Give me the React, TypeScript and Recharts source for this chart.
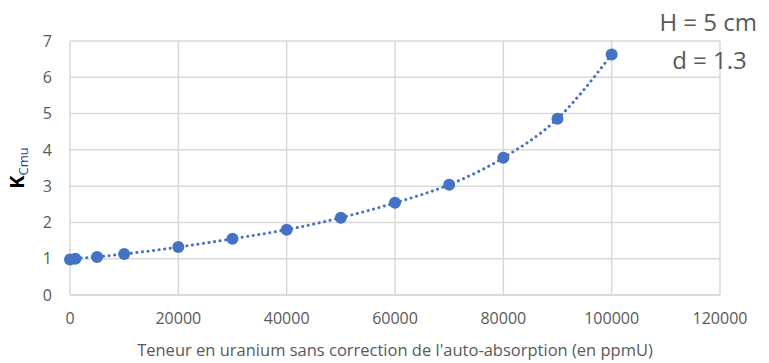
import React from "react";
import { ComposedChart, Line, Scatter, XAxis, YAxis, CartesianGrid, Label } from "recharts";

const teneurs = [0, 1000, 5000, 10000, 20000, 30000, 40000, 50000, 60000, 70000, 80000, 90000, 100000];
const kValues = [0.98, 1.0, 1.05, 1.13, 1.32, 1.55, 1.8, 2.13, 2.54, 3.04, 3.78, 4.86, 6.63];
const xTicks = [0, 20000, 40000, 60000, 80000, 100000, 120000];
const yTicks = [0, 1, 2, 3, 4, 5, 6, 7];

const points = teneurs.map((t, i) => ({ teneur: t, k: kValues[i] }));

const blue = "#4472C4";
const grey = "#595959";
const font = "'Open Sans', 'Noto Sans', sans-serif";

const YLabel = () => (
  <text transform="translate(24, 168) rotate(-90)" textAnchor="middle" fontFamily={font}>
    <tspan fontSize={20} fontWeight={700} fill="#000">K</tspan>
    <tspan fontSize={13} dy={4} fill="#1F3A93">Cmu</tspan>
  </text>
);

export default function App() {
  return (
    <div style={{ position: "absolute", left: 0, top: 0, width: 769, height: 363, background: "#fff" }}>
      <ComposedChart
        width={769}
        height={363}
        data={points}
        margin={{ top: 41, right: 49, bottom: 0, left: 0 }}
      >
        <CartesianGrid stroke="#D9D9D9" strokeWidth={1.5} />
        <XAxis
          dataKey="teneur"
          type="number"
          domain={[0, 120000]}
          ticks={xTicks}
          height={68}
          stroke="#D9D9D9"
          strokeWidth={1.5}
          tickLine={false}
          tickSize={0}
          tickMargin={18}
          tick={{ fill: grey, fontSize: 16, fontFamily: font }}
        >
          <Label
            value="Teneur en uranium sans correction de l'auto-absorption (en ppmU)"
            position="insideBottom"
            offset={7}
            fill={grey}
            fontSize={16.5}
            fontFamily={font}
          />
        </XAxis>
        <YAxis
          type="number"
          domain={[0, 7]}
          ticks={yTicks}
          width={70}
          axisLine={false}
          tickLine={false}
          tickSize={0}
          tickMargin={18}
          tick={{ fill: grey, fontSize: 16, fontFamily: font }}
          label={{ content: () => <YLabel /> }}
        />
        <Line
          dataKey="k"
          type="monotone"
          stroke={blue}
          strokeWidth={3}
          strokeDasharray="0.1 5.5"
          strokeLinecap="round"
          dot={false}
          activeDot={false}
          isAnimationActive={false}
        />
        <Scatter
          dataKey="k"
          fill={blue}
          shape={(p: any) => <circle cx={p.cx} cy={p.cy} r={6} fill={blue} />}
          isAnimationActive={false}
        />
      </ComposedChart>
      <div
        style={{
          position: "absolute",
          left: 600,
          top: 3,
          width: 157,
          textAlign: "right",
          fontFamily: font,
          fontSize: 24,
          color: grey,
          lineHeight: "38px",
        }}
      >
        <div>H = 5 cm</div>
        <div style={{ textAlign: "center", paddingLeft: 62 }}>d = 1.3</div>
      </div>
    </div>
  );
}
